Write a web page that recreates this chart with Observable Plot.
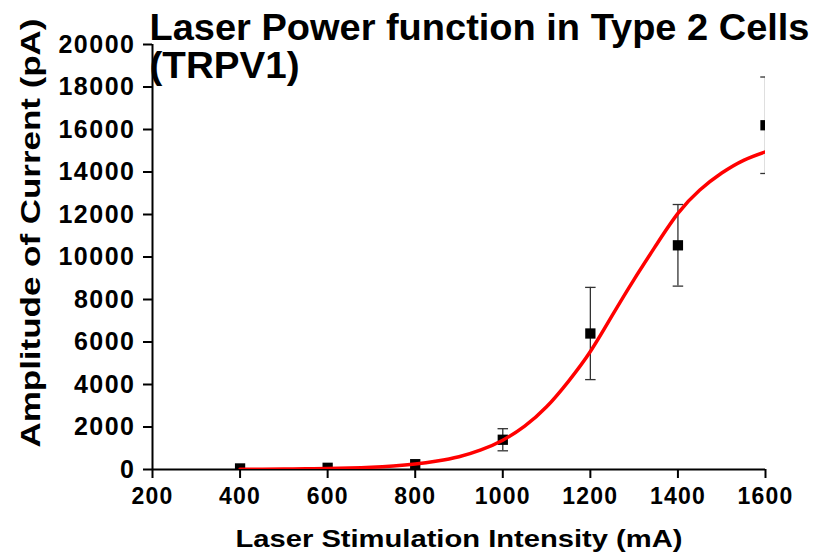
<!DOCTYPE html>
<html><head><meta charset="utf-8">
<script src="https://cdn.jsdelivr.net/npm/d3@7"></script>
<script src="https://cdn.jsdelivr.net/npm/@observablehq/plot@0.6"></script>
<style>
body{margin:0;background:#fff;}
#chart{width:820px;height:560px;}
[aria-label="y-axis tick label"] text{letter-spacing:1.5px;}
[aria-label="x-axis tick label"] text{letter-spacing:1.2px;}
</style></head><body><div id="chart"></div>
<script>
// Measured data (mean ± error)
const intensity = [400, 600, 800, 1000, 1200, 1400, 1600];
const amplitude = [50, 80, 250, 1400, 6400, 10550, 16200];
const errorBar = [0, 0, 0, 520, 2170, 1920, 2270];

// Fitted curve
const fitX = [400, 450, 500, 550, 600, 650, 700, 750, 800, 850, 900, 950, 1000, 1050, 1100, 1150, 1200, 1250, 1300, 1350, 1400, 1450, 1500, 1550, 1600];
const fitY = [10, 14, 20, 31, 47, 72, 110, 170, 260, 400, 600, 920, 1380, 2040, 2950, 4150, 5550, 7250, 8950, 10550, 12050, 13150, 13950, 14550, 14950];

// Tick labels
const xTicks = [200, 400, 600, 800, 1000, 1200, 1400, 1600];
const yTicks = [0, 2000, 4000, 6000, 8000, 10000, 12000, 14000, 16000, 18000, 20000];

const titleLines = ["Laser Power function in Type 2 Cells", "(TRPV1)"];
const xLabel = "Laser Stimulation Intensity (mA)";
const yLabel = "Amplitude of Current (pA)";

const points = intensity.map((x, i) => ({x, y: amplitude[i], e: errorBar[i]}));
const bars = points.filter(d => d.e > 0);
const fit = fitX.map((x, i) => ({x, y: fitY[i]}));

const capHalf = 12;
const plot = Plot.plot({
  width: 820, height: 560,
  marginLeft: 152, marginRight: 55, marginTop: 44, marginBottom: 91,
  x: {domain: [200, 1600]},
  y: {domain: [0, 20000]},
  style: {fontFamily: "'Liberation Sans', Arial, sans-serif", background: "#fff", color: "black", overflow: "visible"},
  marks: [
    Plot.axisY({ticks: yTicks, tickFormat: d3.format("d"), tickSize: 9, tickPadding: 8, fontSize: 25, fontWeight: "bold", strokeWidth: 2, label: null}),
    Plot.axisX({ticks: xTicks, tickFormat: d3.format("d"), tickSize: 9, tickPadding: 9, fontSize: 23, fontWeight: "bold", strokeWidth: 2, label: null}),
    Plot.ruleX([200], {y1: 0, y2: 20000, strokeWidth: 2}),
    Plot.ruleY([0], {strokeWidth: 2}),
    Plot.ruleX(bars, {x: "x", y1: d => d.y - d.e, y2: d => d.y + d.e, stroke: "#333", strokeWidth: 1.3, clip: true}),
    Plot.link(bars, {x1: d => d.x - capHalf, x2: d => d.x + capHalf, y1: d => d.y + d.e, y2: d => d.y + d.e, stroke: "#333", strokeWidth: 1.3, clip: true}),
    Plot.link(bars, {x1: d => d.x - capHalf, x2: d => d.x + capHalf, y1: d => d.y - d.e, y2: d => d.y - d.e, stroke: "#333", strokeWidth: 1.3, clip: true}),
    Plot.dot(points, {x: "x", y: "y", symbol: "square", r: 5.8, fill: "black", clip: true}),
    Plot.line(fit, {x: "x", y: "y", stroke: "#ff0000", strokeWidth: 3.5, curve: "natural", clip: true}),
    Plot.text([titleLines[0]], {frameAnchor: "top-left", textAnchor: "start", lineAnchor: "top", dx: -3, dy: -31, fontSize: 37, fontWeight: "bold"}),
    Plot.text([titleLines[1]], {frameAnchor: "top-left", textAnchor: "start", lineAnchor: "top", dx: -3, dy: 7, fontSize: 37, fontWeight: "bold"}),
    Plot.text([xLabel], {frameAnchor: "bottom", textAnchor: "middle", lineAnchor: "bottom", dy: 77, fontSize: 24, fontWeight: "bold"}),
    Plot.text([yLabel], {frameAnchor: "left", textAnchor: "middle", lineAnchor: "middle", rotate: -90, dx: -121, dy: -24, fontSize: 27, fontWeight: "bold"})
  ]
});
document.getElementById("chart").appendChild(plot);

const fitWidths = new Map([[titleLines[0], 660], [titleLines[1], 150], [xLabel, 447], [yLabel, 429]]);
d3.select(plot).selectAll("text").each(function() {
  const w = fitWidths.get(this.textContent);
  if (w) { this.setAttribute("textLength", w); this.setAttribute("lengthAdjust", "spacingAndGlyphs"); }
});
</script></body></html>
